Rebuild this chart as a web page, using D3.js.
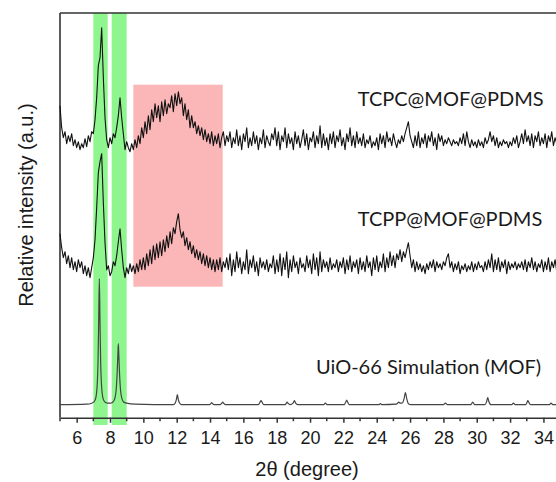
<!DOCTYPE html>
<html>
<head>
<meta charset="utf-8">
<script src="https://cdn.jsdelivr.net/npm/d3@7"></script>
<style>
  body { margin: 0; background: #fff; }
  svg { display: block; }
</style>
</head>
<body>
<svg id="chart" width="556" height="482"></svg>
<script>
// 2theta grid of the measured patterns: start 5.0, step 0.1, one row per degree
const gridStart = 5.0;
const gridStep = 0.1;

// intensity, arbitrary units (offset so the three patterns stack)
const tcpcValues = [
  312,290,280,286,274,282,276,284,272,278,
  270,276,268,274,270,279,271,282,276,286,
  284,298,320,352,360,390,340,300,278,270,
  280,274,284,280,290,302,320,300,284,268,
  276,270,266,274,268,278,270,282,274,290,
  280,296,284,302,288,308,296,314,300,312,
  296,316,302,318,304,314,310,322,306,324,
  312,326,314,320,302,314,298,308,290,302,
  290,296,284,292,282,290,278,288,276,284,
  274,286,272,282,274,284,270,280,286,272,
  282,276,286,270,280,274,288,272,282,268,
  284,276,290,270,280,272,286,274,282,268,
  280,274,288,270,282,276,272,284,278,290,
  272,286,268,282,276,290,270,284,274,280,
  268,286,274,282,270,278,288,272,284,268,
  280,276,286,270,282,274,292,270,284,272,
  280,268,284,274,286,270,282,276,288,272,
  280,268,284,276,290,272,282,270,286,274,
  280,272,284,270,278,274,282,270,276,272,
  280,268,284,274,282,270,286,276,280,272,
  284,276,270,278,274,282,276,284,290,296,
  282,276,270,282,272,286,270,280,274,284,
  270,282,276,286,272,280,268,284,276,282,
  272,278,274,280,276,272,278,274,276,272,
  280,274,284,272,286,276,270,278,272,276,
  270,278,272,276,270,280,274,278,286,276,
  282,272,280,270,276,272,278,274,276,270,
  276,272,280,274,282,270,276,284,274,288,
  276,282,272,284,270,282,276,286,272,280,
  274,284,270,282,276,286,272,280,274,284,
  276,282,272,280,274,282,276,280,274,280
];

const tcppValues = [
  184,170,160,166,154,162,150,160,148,156,
  146,158,150,156,144,152,142,150,140,150,
  160,178,210,245,256,264,215,175,148,152,
  142,146,156,152,162,176,189,168,150,140,
  150,144,154,146,152,144,154,146,158,148,
  160,148,164,152,168,154,172,158,174,160,
  176,162,178,166,182,170,186,174,190,184,
  196,204,188,180,186,172,180,168,176,164,
  172,160,168,158,166,154,164,152,162,150,
  160,148,158,146,158,148,160,146,156,150,
  160,148,164,142,158,146,166,150,160,144,
  156,148,168,144,158,150,162,146,156,142,
  160,150,156,148,158,146,154,150,162,144,
  158,146,164,142,160,148,166,140,158,146,
  162,150,156,144,160,150,154,146,162,150,
  158,144,164,148,160,142,166,146,158,150,
  156,146,160,148,154,150,158,146,156,150,
  160,144,158,148,162,146,156,150,158,144,
  160,148,156,146,162,150,156,142,160,148,
  162,146,156,150,164,146,160,150,166,152,
  162,150,164,158,168,156,166,160,168,175,
  162,150,158,146,156,148,154,146,152,144,
  154,148,156,150,158,146,156,150,154,148,
  156,152,160,164,150,156,146,154,148,156,
  144,152,148,154,146,152,148,156,146,154,
  148,156,150,152,146,156,148,158,150,164,
  146,158,148,160,146,156,150,158,144,156,
  148,154,150,156,148,154,150,156,148,158,
  146,156,150,160,148,156,146,154,150,158,
  146,156,148,160,146,156,150,158,146,154,
  148,156,150,158,146,154,148,156,150,154
];

// simulated UiO-66 pattern as [2theta, intensity]
const simPoints = [
  [5,13],[6.6,13.5],[6.9,14.5],[7.05,16],[7.15,20],[7.22,30],[7.28,55],[7.32,95],
  [7.36,139],[7.4,95],[7.44,55],[7.5,30],[7.57,20],[7.67,16],[7.85,14.5],[8.05,14.5],
  [8.2,16],[8.3,20],[8.37,28],[8.43,45],[8.47,62],[8.5,74],[8.53,62],[8.57,45],
  [8.63,28],[8.7,20],[8.8,16],[9.0,14.5],[9.5,13.5],[11.8,13],[11.92,15],[11.98,18],
  [12.04,23],[12.1,18],[12.16,15],[12.3,13],
  [13.95,13],[14.05,14],[14.1,15],[14.15,14],[14.25,13],
  [14.6,13],[14.7,14.5],[14.76,15.5],[14.82,14.5],[14.92,13],
  [16.9,13],[17.0,15.5],[17.06,17],[17.12,15.5],[17.22,13],
  [18.5,13],[18.58,14.5],[18.62,15.5],[18.68,14.5],[18.8,13],[18.98,14.5],[19.06,17],[19.14,14.5],[19.25,13],
  [20.82,13],[20.92,14.5],[21.02,13],
  [22.05,13],[22.14,15.5],[22.2,17.5],[22.26,15.5],[22.35,13],
  [24.12,13],[24.22,14],[24.32,13],
  [25.15,13.5],[25.25,14.5],[25.32,15.5],[25.42,14.5],[25.55,15],[25.64,19],[25.72,25],[25.8,19],[25.9,14],[26.05,13],
  [28.0,13],[28.12,14.5],[28.24,13],
  [29.64,13],[29.76,15.5],[29.88,13],
  [30.5,13],[30.6,16.5],[30.66,20],[30.72,16.5],[30.85,13],
  [32.1,13],[32.2,14.5],[32.3,13],
  [32.94,13],[33.02,15.5],[33.06,17],[33.12,15.5],[33.22,13],
  [34.36,13],[34.46,14.5],[34.56,13],[35.9,13]
];

// highlighted 2theta ranges
const peakBands = [[7.0, 7.86], [8.1, 9.0]];
const humpBox = { x0: 9.4, x1: 14.76, v0: 131, v1: 333 };

const seriesLabels = ["TCPC@MOF@PDMS", "TCPP@MOF@PDMS", "UiO-66 Simulation (MOF)"];
const labelLevels = [312, 192, 44];
const labelStarts = [22.86, 22.86, 20.36];

const xTicks = d3.range(6, 35, 2);

const svg = d3.select("#chart");
const plotLeft = 60, plotTop = 13, plotBottom = 417.7;

const x = d3.scaleLinear().domain([5, 36]).range([plotLeft, plotLeft + 31 * 16.67]);
const y = d3.scaleLinear().domain([0, 404.7]).range([plotBottom, plotTop]);

// bands
svg.selectAll("rect.band")
  .data(peakBands)
  .join("rect")
  .attr("class", "band")
  .attr("x", d => x(d[0]))
  .attr("width", d => x(d[1]) - x(d[0]))
  .attr("y", plotTop)
  .attr("height", 425 - plotTop)
  .attr("fill", "#8ff58f");

svg.append("rect")
  .attr("x", x(humpBox.x0))
  .attr("width", x(humpBox.x1) - x(humpBox.x0))
  .attr("y", y(humpBox.v1))
  .attr("height", y(humpBox.v0) - y(humpBox.v1))
  .attr("fill", "#fbb7b7");

// frame
svg.append("line")
  .attr("x1", plotLeft).attr("x2", plotLeft)
  .attr("y1", plotTop).attr("y2", plotBottom)
  .attr("stroke", "#333").attr("stroke-width", 1.6);
svg.append("line")
  .attr("x1", plotLeft).attr("x2", 556)
  .attr("y1", plotTop).attr("y2", plotTop)
  .attr("stroke", "#333").attr("stroke-width", 1.6);

// bottom axis, major and minor ticks
const xAxis = svg.append("g")
  .attr("transform", `translate(0,${plotBottom})`)
  .call(d3.axisBottom(x).tickValues(xTicks).tickSize(5).tickSizeOuter(0).tickFormat(d3.format("d")));
xAxis.select(".domain").attr("stroke", "#333").attr("stroke-width", 1.6);
xAxis.selectAll(".tick line").attr("stroke", "#333").attr("stroke-width", 1.5);
xAxis.selectAll(".tick text")
  .attr("dy", "1.0em")
  .attr("fill", "#1a1a1a")
  .style("font-family", "'Liberation Sans', Arial, sans-serif")
  .style("font-size", "18px");

svg.append("g")
  .selectAll("line")
  .data(d3.range(5, 36, 2))
  .join("line")
  .attr("x1", d => x(d)).attr("x2", d => x(d))
  .attr("y1", plotBottom).attr("y2", plotBottom + 3.5)
  .attr("stroke", "#333").attr("stroke-width", 1.5);

// patterns
const line = d3.line()
  .x((d, i) => x(gridStart + i * gridStep))
  .y(d => y(d));

[tcpcValues, tcppValues].forEach(vals => {
  svg.append("path")
    .datum(vals)
    .attr("d", line)
    .attr("fill", "none")
    .attr("stroke", "#111")
    .attr("stroke-width", 1.1)
    .attr("stroke-linejoin", "round");
});

svg.append("path")
  .datum(simPoints)
  .attr("d", d3.line().x(d => x(d[0])).y(d => y(d[1])).curve(d3.curveMonotoneX))
  .attr("fill", "none")
  .attr("stroke", "#444")
  .attr("stroke-width", 1.2);

// labels
svg.selectAll("text.series")
  .data(seriesLabels)
  .join("text")
  .attr("class", "series")
  .attr("x", (d, i) => x(labelStarts[i]))
  .attr("y", (d, i) => y(labelLevels[i]))
  .attr("fill", "#1a1a1a")
  .style("font-family", "Lato, 'Open Sans', sans-serif")
  .style("font-size", "20px")
  .text(d => d);

svg.append("text")
  .attr("transform", "translate(33,205) rotate(-90)")
  .attr("text-anchor", "middle")
  .attr("fill", "#1a1a1a")
  .style("font-family", "'Liberation Sans', Arial, sans-serif")
  .style("font-size", "20px")
  .text("Relative intensity (a.u.)");

svg.append("text")
  .attr("x", 307)
  .attr("y", 476)
  .attr("text-anchor", "middle")
  .attr("fill", "#1a1a1a")
  .style("font-family", "'Liberation Sans', Arial, sans-serif")
  .style("font-size", "20px")
  .text("2θ (degree)");
</script>
</body>
</html>
